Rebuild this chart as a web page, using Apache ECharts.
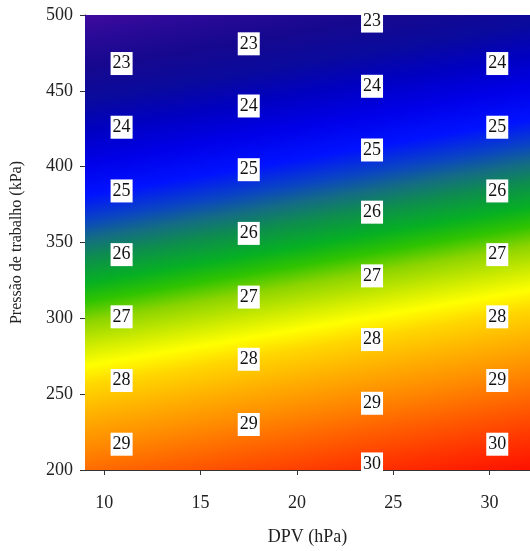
<!DOCTYPE html>
<html>
<head>
<meta charset="utf-8">
<script src="https://cdn.jsdelivr.net/npm/echarts@6/dist/echarts.min.js"></script>
<style>
  html, body { margin: 0; padding: 0; background: #fff; }
  #main { width: 530px; height: 551px; }
</style>
</head>
<body>
<div id="main"></div>
<script>
// contour levels and where each level line crosses the left (DPV 9) and right (DPV 32.1) edges
const contourLevels = [22, 23, 24, 25, 26, 27, 28, 29, 30, 31];
const contourAtLeft = [506, 465, 423, 381, 340, 298, 256, 215, 173, 131];
const contourAtRight = [557, 515, 473, 431, 390, 348, 306, 265, 223, 181];

// contour labels
const labelDpv = [
  10.9, 10.9, 10.9, 10.9, 10.9, 10.9, 10.9,
  17.5, 17.5, 17.5, 17.5, 17.5, 17.5, 17.5,
  23.9, 23.9, 23.9, 23.9, 23.9, 23.9, 23.9, 23.9,
  30.4, 30.4, 30.4, 30.4, 30.4, 30.4, 30.4
];
const labelPressure = [
  468, 426, 384, 342, 301, 259, 217,
  481, 440, 398, 356, 314, 273, 230,
  496, 453, 411, 370, 328, 286, 244, 204,
  468, 426, 384, 342, 301, 259, 217
];
const labelText = [
  '23', '24', '25', '26', '27', '28', '29',
  '23', '24', '25', '26', '27', '28', '29',
  '23', '24', '25', '26', '27', '28', '29', '30',
  '24', '25', '26', '27', '28', '29', '30'
];

const xTicks = [10, 15, 20, 25, 30];
const xMin = 9, xMax = 32.1;

// colour ramp (level -> colour)
const colorRamp = [
  [22.0, '#4a0aa2'], [22.5, '#2a0a98'], [23.0, '#16088f'], [23.5, '#0a0a9c'],
  [24.0, '#0000c2'], [24.5, '#0000e8'], [25.0, '#0012ff'], [25.4, '#0a44c4'],
  [25.7, '#146c84'], [26.0, '#0e8c50'], [26.4, '#06b022'], [26.7, '#30c400'],
  [27.0, '#8cd400'], [27.4, '#d0ec00'], [27.7, '#ffff00'], [28.0, '#ffd800'],
  [28.5, '#ffb000'], [29.0, '#ff8a00'], [29.5, '#ff6000'], [30.0, '#ff3800'],
  [30.5, '#ff1400'], [31.0, '#ff0000']
];

function stopsBetween(lo, hi) {
  const stops = [];
  colorRamp.forEach(function (s) {
    if (s[0] >= lo && s[0] <= hi) stops.push({ offset: (s[0] - lo) / (hi - lo), color: s[1] });
  });
  return stops;
}

const chart = echarts.init(document.getElementById('main'));
const serif = 'Liberation Serif';
const last = contourLevels.length - 1;

chart.setOption({
  animation: false,
  grid: { left: 85, right: 0, top: 15, bottom: 75, containLabel: false },
  xAxis: {
    type: 'value', min: xMin, max: xMax,
    name: 'DPV (hPa)', nameLocation: 'middle', nameGap: 58,
    nameTextStyle: { fontFamily: serif, fontSize: 18, color: '#222' },
    axisLine: { lineStyle: { color: '#333', width: 1 } },
    axisTick: { customValues: xTicks, length: 5, lineStyle: { color: '#333' } },
    axisLabel: { customValues: xTicks, fontFamily: serif, fontSize: 18, color: '#222', margin: 24 },
    splitLine: { show: false }
  },
  yAxis: {
    type: 'value', min: 200, max: 500, interval: 50,
    name: 'Pressão de trabalho (kPa)', nameLocation: 'middle', nameGap: 60,
    nameTextStyle: { fontFamily: serif, fontSize: 16, color: '#222' },
    axisLine: { show: true, lineStyle: { color: '#333', width: 1 } },
    axisTick: { show: true, length: 5, lineStyle: { color: '#333' } },
    axisLabel: { fontFamily: serif, fontSize: 18, color: '#222', margin: 12 },
    splitLine: { show: false }
  },
  series: [
    {
      type: 'custom',
      clip: true,
      data: contourLevels.slice(0, last).map(function (v, i) { return [i]; }),
      renderItem: function (params, api) {
        const i = api.value(0);
        const a1 = api.coord([xMin, contourAtLeft[i]]);
        const a2 = api.coord([xMax, contourAtRight[i]]);
        const b1 = api.coord([xMin, contourAtLeft[i + 1]]);
        const z1 = api.coord([xMin, contourAtLeft[last]]);
        const z2 = api.coord([xMax, contourAtRight[last]]);
        // gradient across the band, perpendicular to the contour line
        let dx = a2[0] - a1[0], dy = a2[1] - a1[1];
        const len = Math.sqrt(dx * dx + dy * dy);
        dx /= len; dy /= len;
        let nx = -dy, ny = dx;
        let dist = (b1[0] - a1[0]) * nx + (b1[1] - a1[1]) * ny;
        if (dist < 0) { nx = -nx; ny = -ny; dist = -dist; }
        const grad = new echarts.graphic.LinearGradient(
          a1[0], a1[1], a1[0] + nx * dist, a1[1] + ny * dist,
          stopsBetween(contourLevels[i], contourLevels[i + 1]), true
        );
        return {
          type: 'polygon',
          shape: { points: [a1, a2, z2, z1] },
          style: { fill: grad }
        };
      },
      z: 1
    },
    {
      type: 'scatter',
      symbolSize: 1,
      itemStyle: { color: 'rgba(0,0,0,0)', opacity: 1 },
      data: labelDpv.map(function (x, i) { return [x, labelPressure[i], labelText[i]]; }),
      label: {
        show: true, position: 'inside',
        formatter: function (p) { return p.value[2]; },
        backgroundColor: '#fff', padding: [3, 2, 2, 2],
        fontFamily: serif, fontSize: 18, color: '#111'
      },
      z: 5
    }
  ]
});
</script>
</body>
</html>
